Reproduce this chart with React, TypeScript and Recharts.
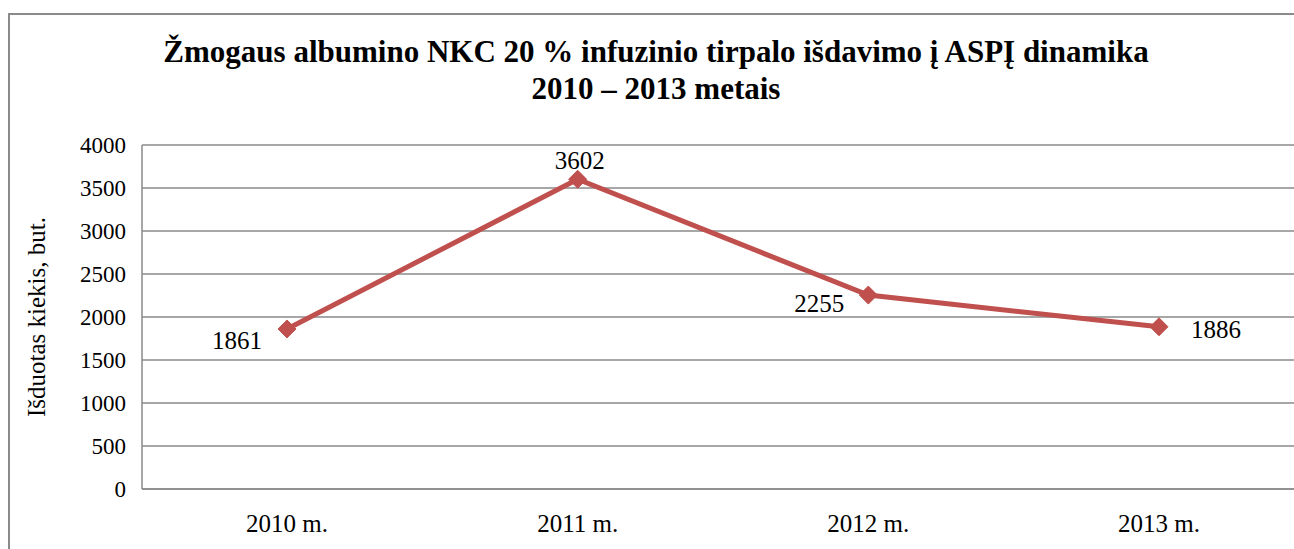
import React from 'react';
import { LineChart, Line, XAxis, YAxis, CartesianGrid, LabelList } from 'recharts';

const years = ['2010 m.', '2011 m.', '2012 m.', '2013 m.'];
const issued = [1861, 3602, 2255, 1886];
const yTicks = [0, 500, 1000, 1500, 2000, 2500, 3000, 3500, 4000];

// where each value label sits relative to its point
const labelShift = [
  [-50, 12],
  [2, -19],
  [-49, 8],
  [57, 3],
];

const data = years.map((year, i) => ({ year, value: issued[i] }));

const serif = "'Liberation Serif'";
const gridColor = '#8a8a8a';
const lineColor = '#C0504D';

const Diamond = (props: any) => {
  const { cx, cy } = props;
  if (cx == null || cy == null) return null;
  const r = 9;
  return (
    <polygon
      points={`${cx},${cy - r} ${cx + r},${cy} ${cx},${cy + r} ${cx - r},${cy}`}
      fill={lineColor}
      stroke={lineColor}
    />
  );
};

const ValueLabel = (props: any) => {
  const { x, y, value, index } = props;
  const [dx, dy] = labelShift[index] || [0, -15];
  return (
    <text
      x={x + dx}
      y={y + dy}
      textAnchor="middle"
      dominantBaseline="central"
      fontFamily={serif}
      fontSize={25}
      fill="#000"
    >
      {value}
    </text>
  );
};

export default function App() {
  return (
    <div style={{ position: 'absolute', left: 0, top: 0, width: 1294, height: 549, overflow: 'hidden', background: '#fff' }}>
      {/* frame: only top and left edges fall inside the window */}
      <div
        style={{
          position: 'absolute',
          left: 8,
          top: 13,
          width: 1286,
          height: 536,
          borderTop: `2px solid ${gridColor}`,
          borderLeft: `2px solid ${gridColor}`,
          boxSizing: 'border-box',
        }}
      />
      <div
        style={{
          position: 'absolute',
          left: 18,
          top: 33,
          width: 1276,
          textAlign: 'center',
          fontFamily: serif,
          fontWeight: 'bold',
          fontSize: 31,
          lineHeight: '37px',
          color: '#000',
        }}
      >
        Žmogaus albumino NKC 20 % infuzinio tirpalo išdavimo į ASPĮ dinamika
        <br />
        2010 – 2013 metais
      </div>
      <div
        style={{
          position: 'absolute',
          left: 37,
          top: 317,
          transform: 'translate(-50%, -50%) rotate(-90deg)',
          whiteSpace: 'nowrap',
          fontFamily: serif,
          fontSize: 25,
          color: '#000',
        }}
      >
        Išduotas kiekis, but.
      </div>
      <div style={{ position: 'absolute', left: 8, top: 13, width: 1286, height: 536, overflow: 'hidden' }}>
        <LineChart
          width={1330}
          height={560}
          data={data}
          accessibilityLayer={false}
          margin={{ top: 132, right: 34, bottom: 34, left: 0 }}
        >
          <CartesianGrid vertical={false} stroke={gridColor} strokeWidth={1.5} />
          <XAxis
            dataKey="year"
            padding={{ left: 145, right: 145 }}
            axisLine={{ stroke: gridColor, strokeWidth: 1.5 }}
            tickLine={false}
            tickSize={6}
            tickMargin={19}
            height={50}
            interval={0}
            tick={{ fontFamily: serif, fontSize: 25, fill: '#000' }}
          />
          <YAxis
            width={134}
            domain={[0, 4000]}
            ticks={yTicks}
            interval={0}
            axisLine={{ stroke: gridColor, strokeWidth: 1.5 }}
            tickLine={false}
            tickSize={6}
            tickMargin={10}
            tick={{ fontFamily: serif, fontSize: 23, fill: '#000' }}
          />
          <Line
            dataKey="value"
            stroke={lineColor}
            strokeWidth={5}
            dot={<Diamond />}
            activeDot={false}
            isAnimationActive={false}
          >
            <LabelList dataKey="value" content={<ValueLabel />} />
          </Line>
        </LineChart>
      </div>
    </div>
  );
}
